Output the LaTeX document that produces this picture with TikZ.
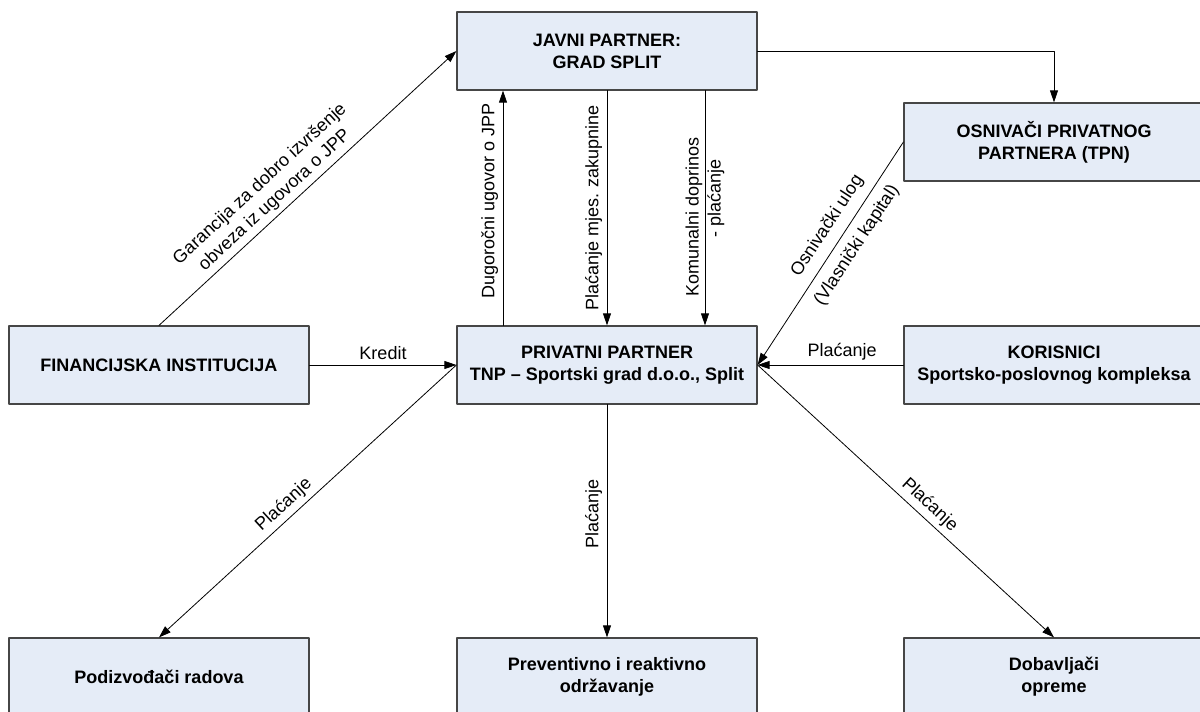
\documentclass[tikz,border=0pt]{standalone}
\usepackage{fontspec}
\setmainfont{Liberation Sans}
\usetikzlibrary{arrows.meta}
\definecolor{boxfill}{RGB}{229,236,247}
\definecolor{boxline}{RGB}{70,70,70}

\begin{document}
\begin{tikzpicture}[line cap=round,line join=round,>={Triangle[length=9pt,width=6pt]},x=0.75pt,y=-0.75pt,
  box/.style={draw=boxline,fill=boxfill,line width=0.9pt,minimum width=225pt,minimum height=58.5pt,align=center,font=\fontsize{13.5}{16.5}\selectfont\bfseries},
  lbl/.style={font=\fontsize{13.5}{16.5}\selectfont,align=center},
  conn/.style={->,line width=0.6pt}]
\clip(0,0) rectangle (1200,712);
\node[box] (javni) at (607,51) {JAVNI PARTNER:\\GRAD SPLIT};
\node[box] (osnivaci) at (1054,142) {OSNIVAČI PRIVATNOG\\PARTNERA (TPN)};
\node[box] (fin) at (159,365) {FINANCIJSKA INSTITUCIJA};
\node[box] (privatni) at (607,365) {PRIVATNI PARTNER\\TNP – Sportski grad d.o.o., Split};
\node[box] (korisnici) at (1054,365) {KORISNICI\\Sportsko-poslovnog kompleksa};
\node[box] (podizvodjaci) at (159,677) {Podizvođači radova};
\node[box] (odrzavanje) at (607,677) {Preventivno i reaktivno\\održavanje};
\node[box] (dobavljaci) at (1054,677) {Dobavljači\\opreme};
\draw[conn] (javni.east) -| (osnivaci.north);
\draw[conn] (fin.north) -- node[lbl,sloped,above,pos=0.42] {Garancija za dobro izvršenje\\obveza iz ugovora o JPP} (javni.west);
\draw[conn] ([xshift=-78pt]privatni.north) -- node[lbl,rotate=90,anchor=south,pos=0.53] {Dugoročni ugovor o JPP} ([xshift=-78pt]javni.south);
\draw[conn] (javni.south) -- node[lbl,rotate=90,anchor=south] {Plaćanje mjes. zakupnine} (privatni.north);
\draw[conn] ([xshift=73.5pt]javni.south) -- node[lbl,rotate=90,pos=0.54] {Komunalni doprinos\\\hspace*{28pt}- plaćanje} ([xshift=73.5pt]privatni.north);
\draw[conn] (fin.east) -- node[lbl,above] {Kredit} (privatni.west);
\draw[conn] (korisnici.west) -- node[lbl,above,pos=0.42] {Plaćanje} (privatni.east);
\draw[conn] (osnivaci.west) -- node[lbl,sloped,pos=0.42] {Osnivački ulog\\[10pt](Vlasnički kapital)} (privatni.east);
\draw[conn] (privatni.west) -- node[lbl,sloped,above,pos=0.55] {Plaćanje} (podizvodjaci.north);
\draw[conn] (privatni.south) -- node[lbl,rotate=90,anchor=south,pos=0.47] {Plaćanje} (odrzavanje.north);
\draw[conn] (privatni.east) -- node[lbl,sloped,above,pos=0.55] {Plaćanje} (dobavljaci.north);
\end{tikzpicture}
\end{document}
